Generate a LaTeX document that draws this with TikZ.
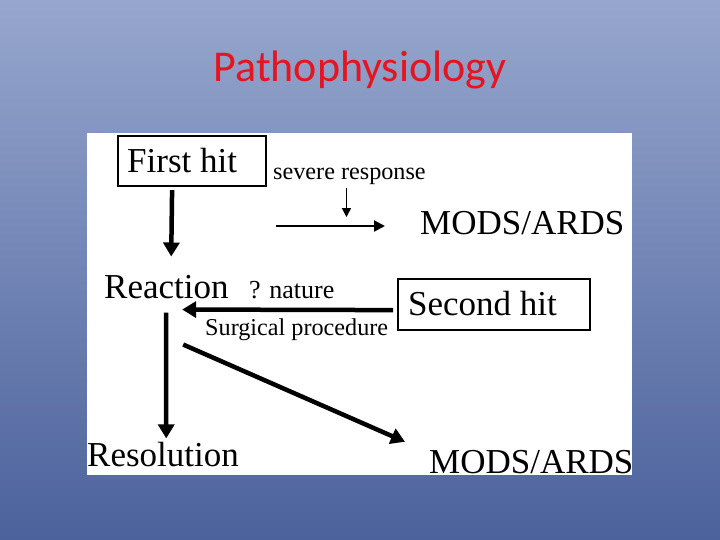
\documentclass[tikz,border=0pt]{standalone}
\usepackage{fontspec}
\setmainfont{Liberation Serif}
\newfontfamily\titlefont{Carlito}
\usetikzlibrary{arrows.meta,calc}
\definecolor{bgtop}{RGB}{150,166,205}
\definecolor{bgbot}{RGB}{76,98,156}
\definecolor{titlered}{RGB}{230,20,30}
\begin{document}
\begin{tikzpicture}[x=1pt,y=-1pt,
  big/.style={inner sep=0pt,anchor=base west,font=\fontsize{35}{35}\selectfont},
  small/.style={inner sep=0pt,anchor=base west,font=\fontsize{24.2}{25}\selectfont},
  framebox/.style={draw,line width=2.2pt,inner sep=0pt,anchor=north west},
  thk/.style={line width=4.5pt,-{Triangle[length=14pt,width=16pt]}},
  thn/.style={line width=2.2pt,-{Triangle[length=11pt,width=11pt]}},
  tny/.style={line width=1.6pt,-{Triangle[length=9pt,width=9pt]}}]
\useasboundingbox (0,0) rectangle (720,540);
\shade[top color=bgtop,bottom color=bgbot] (0,0) rectangle (720,540);
\fill[white] (87,133) rectangle (632,475);
\node[font=\titlefont\fontsize{44}{44}\selectfont,text=titlered,anchor=base,inner sep=0pt] (title) at (360,82) {Pathophysiology};
% boxes
\node[framebox,minimum width=148pt,minimum height=50pt] (fbox) at (117,135) {};
\node[big] (fh) at (127,173) {First hit};
\node[framebox,minimum width=192pt,minimum height=51pt] (sbox) at (397,278) {};
\node[big] (sh) at (408,315) {Second hit};
% texts
\node[small] (sev) at (273,180) {severe response};
\node[big] (mods1) at (420,235) {MODS/ARDS};
\node[big] (reaction) at (104,298) {Reaction};
\node[inner sep=0pt,anchor=base west,font=\fontsize{26}{26}\selectfont] (nature) at (249,298) {? nature};
\node[small] (surg) at (205,335) {Surgical procedure};
\node[big] (resol) at (87,466) {Resolution};
\node[big] (mods2) at (429,473) {MODS/ARDS};
\coordinate (hstart) at (276,226);
% arrows
\draw[thk] ($(fbox.south)+(-20,3)$) -- ($(reaction.north)+(4.8,-18.1)$);
\draw[tny] ($(sev.south)+(-3,2.7)$) -- ($(sev.south)+(-3,31.7)$);
\draw[thn] (hstart) -- ($(mods1.west |- hstart)+(-35,0)$);
\draw[thk] ($(sbox.west)+(-4,5.5)$) -- ($(reaction.south)+(15.8,11)$);
\draw[thk] ($(reaction.south)+(-0.2,14)$) -- ($(resol.north)+(3.2,-3.1)$);
\draw[thk] ($(reaction.south)+(16.8,46)$) -- ($(mods2.west)+(-24,-19.8)$);
\end{tikzpicture}
\end{document}
